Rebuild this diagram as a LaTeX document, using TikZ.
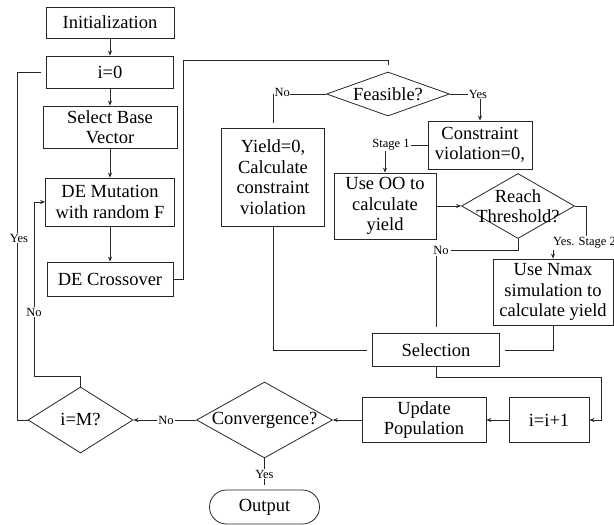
\documentclass[tikz,border=0pt]{standalone}
\usepackage{fontspec}
\setmainfont{Liberation Serif}
\usetikzlibrary{shapes.geometric,arrows.meta}
\begin{document}
\begin{tikzpicture}[x=1pt,y=-1pt,
  big/.style={font=\fontsize{18.5}{20.5}\selectfont},
  box/.style={draw=black!85, rectangle, inner sep=1pt, align=center, big, line width=0.8pt},
  dia/.style={draw=black!85, diamond, inner sep=0pt, line width=0.8pt},
  lbl/.style={fill=white, inner sep=1pt, font=\fontsize{12.5}{14}\selectfont},
  conn/.style={draw=black!85, line width=0.8pt},
  arr/.style={conn, -{Stealth[length=5pt,width=4pt]}}]
\useasboundingbox (0,0) rectangle (614,525);

% left column
\node[box, minimum width=128pt, minimum height=31pt] (init) at (110,22.5) {Initialization};
\node[box, minimum width=127pt, minimum height=32pt] (i0) at (110,72) {i=0};
\node[box, minimum width=134pt, minimum height=42pt] (sbv) at (110,127) {Select Base\\Vector};
\node[box, minimum width=129pt, minimum height=48pt] (mut) at (110,202) {DE Mutation\\with random F};
\node[box, minimum width=126pt, minimum height=34pt] (cross) at (110,279) {DE Crossover};

% middle / right
\node[dia, minimum width=123pt, minimum height=44pt, label={[big]center:Feasible?}] (feas) at (388,94) {};
\node[box, minimum width=103pt, minimum height=98pt] (yield) at (273,177) {Yield=0,\\Calculate\\constraint\\violation};
\node[box, minimum width=104pt, minimum height=48pt] (cons) at (480,145) {Constraint\\violation=0,};
\node[box, minimum width=102pt, minimum height=66pt] (oo) at (385,206) {Use OO to\\calculate\\yield};
\node[dia, minimum width=113pt, minimum height=65pt, label={[big,align=center]center:Reach\\Threshold?}] (reach) at (518,206) {};
\node[box, minimum width=120pt, minimum height=66pt] (nmax) at (553,292) {Use Nmax\\simulation to\\calculate yield};
\node[box, minimum width=127pt, minimum height=33pt] (sel) at (436,350) {Selection};

% bottom row
\node[box, minimum width=80pt, minimum height=45pt] (ii1) at (549,420) {i=i+1};
\node[box, minimum width=124pt, minimum height=45pt] (upd) at (424,420) {Update\\Population};
\node[dia, minimum width=136pt, minimum height=76pt, label={[big]center:Convergence?}] (conv) at (264.5,420) {};
\node[dia, minimum width=105pt, minimum height=66pt, label={[big]center:i=M?}] (im) at (80.5,420) {};
\node[box, rounded corners=17pt, minimum width=110pt, minimum height=34pt] (out) at (264.5,507) {Output};

% coordinates
\coordinate (c1) at (183,60);
\coordinate (fn) at (273,94);
\coordinate (c2) at (586,243);
\coordinate (c4) at (436,250);
\coordinate (c5) at (601,377);
\coordinate (c6) at (17,420);
\coordinate (c7) at (34,376);

% connectors
\draw[arr] (init) -- (i0);
\draw[arr] (i0) -- (sbv);
\draw[arr] (sbv) -- (mut);
\draw[arr] (mut) -- (cross);
\draw[conn, shorten >=7pt] (cross.east) -| (c1) -| (feas.north);
\draw[conn, shorten >=5pt] (feas.west) -- (fn) -- (yield.north);
\node[lbl, anchor=north west, inner sep=0.5pt] (nofeas) at (274,88) {No};
\draw[arr] (feas.east) -| node[lbl, pos=0.5, xshift=-2pt] (yesfeas) {Yes} (cons.north);
\draw[arr] (cons.west) -| node[lbl, pos=0.5, xshift=6pt] (st1) {Stage 1} (oo.north);
\draw[arr] (oo.east) -- (reach.west);
\draw[arr] (reach.east) -| (c2) -| (nmax.north);
\node[lbl, anchor=west, inner sep=2pt] (ys2) at (551,243) {Yes. Stage 2};
\draw[conn, shorten >=6pt] (reach.south) |- (c4) -- (sel.north);
\node[lbl, inner sep=2pt] (nosel) at (441,250) {No};
\draw[conn, shorten >=5pt] (nmax.south) |- (sel.east);
\draw[conn, shorten >=5pt] (yield.south) |- (sel.west);
\draw[arr] (sel.south) |- (c5) |- (ii1.east);
\draw[arr] (ii1) -- (upd);
\draw[arr] (upd) -- (conv);
\draw[arr] (conv) -- node[lbl, pos=0.48] (noconv) {No} (im);
\draw[conn, shorten >=5pt] (conv) -- node[lbl, pos=0.5] (yesconv) {Yes} (out);
\draw[conn, shorten >=5pt] (im.west) -- (c6) |- (i0.west);
\node[lbl] (yesim) at (19,238) {Yes};
\draw[arr] (im.north) |- (c7) |- (mut.west);
\node[lbl] (noim) at (34,312) {No};
\end{tikzpicture}
\end{document}
